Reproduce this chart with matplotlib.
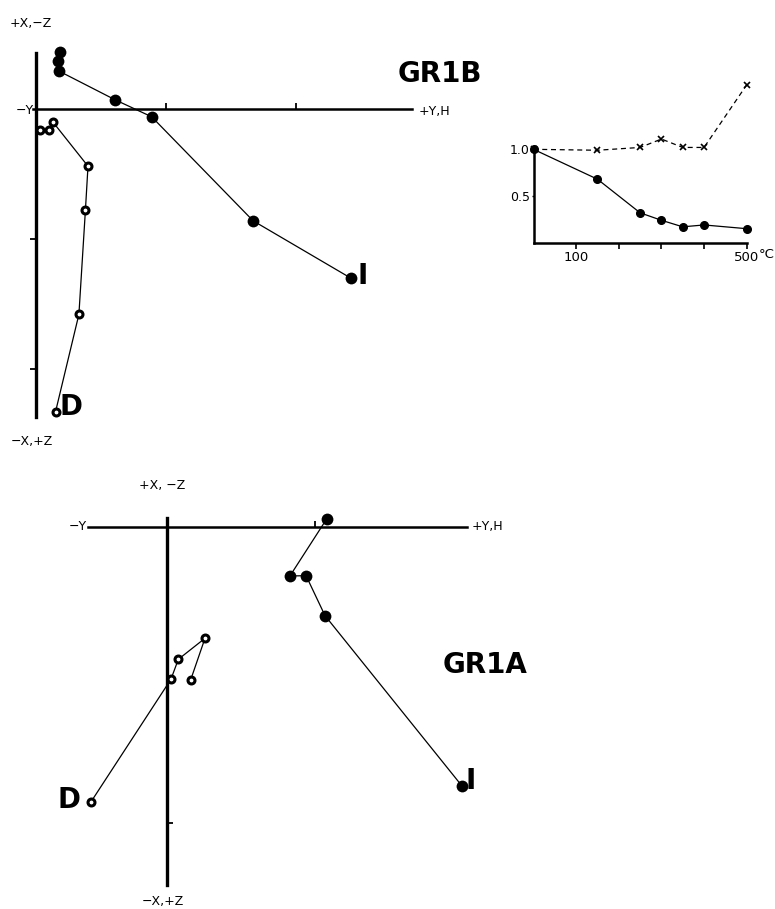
import numpy as np
import matplotlib
matplotlib.use("Agg")
import matplotlib.pyplot as plt

# --- GR1B orthogonal projection (units of tick spacing) ---
b_hor_y = [2.42, 1.67, 0.89, 0.61, 0.18, 0.17, 0.185]     # filled, "I"
b_hor_x = [-1.30, -0.86, -0.06, 0.07, 0.29, 0.37, 0.44]
b_ver_h = [0.15, 0.33, 0.38, 0.40, 0.13, 0.10, 0.03]       # open, "D"
b_ver_z = [-2.33, -1.58, -0.78, -0.44, -0.10, -0.16, -0.16]

# --- GR1A orthogonal projection ---
a_hor_y = [1.995, 1.071, 0.943, 0.834, 1.082]
a_hor_x = [-1.750, -0.601, -0.331, -0.333, 0.052]
a_ver_h = [-0.512, 0.030, 0.080, 0.260, 0.163]
a_ver_z = [-1.862, -1.031, -0.896, -0.754, -1.036]

# --- inset: normalised intensity and ratio vs temperature ---
temps = [0, 150, 250, 300, 350, 400, 500]
intensity = [1.0, 0.68, 0.32, 0.24, 0.17, 0.19, 0.15]
ratio = [1.0, 0.99, 1.02, 1.11, 1.02, 1.02, 1.69]

W, H = 775, 909
fig = plt.figure(figsize=(W / 100, H / 100), dpi=100)
fig.patch.set_facecolor("white")


def px_axes(x0, y0, x1, y1):
    return fig.add_axes([x0 / W, 1 - y1 / H, (x1 - x0) / W, (y1 - y0) / H])


def zijder(ax, unit, ox, oy, box, hbounds, vbounds, xticks, yticks, ydir):
    x0, y0, x1, y1 = box
    ax.set_xlim((x0 - ox) / unit, (x1 - ox) / unit)
    ax.set_ylim((oy - y1) / unit, (oy - y0) / unit)
    ax.patch.set_visible(False)
    for s in ["top", "right"]:
        ax.spines[s].set_visible(False)
    ax.spines["left"].set_position(("data", 0))
    ax.spines["bottom"].set_position(("data", 0))
    ax.spines["left"].set_bounds(*vbounds)
    ax.spines["bottom"].set_bounds(*hbounds)
    ax.spines["left"].set_linewidth(2.4)
    ax.spines["bottom"].set_linewidth(1.8)
    ax.set_xticks(xticks)
    ax.set_yticks(yticks)
    ax.tick_params(axis="x", direction="in", length=4, width=1.3, labelbottom=False)
    ax.tick_params(axis="y", direction=ydir, length=4, width=1.3, labelleft=False)


small = dict(fontsize=9, family="DejaVu Sans")
big = dict(fontsize=20, fontweight="bold", family="DejaVu Sans")

# ---------------- GR1B ----------------
axb = px_axes(0, 0, 500, 460)
ub, oxb, oyb = 130.0, 36.0, 109.0
zijder(axb, ub, oxb, oyb, (0, 0, 500, 460), (-0.02, 2.89), (-2.37, 0.43),
       [1, 2], [-1, -2], "out")
axb.plot(b_hor_y, b_hor_x, "-", color="k", lw=0.9, zorder=3)
axb.plot(b_hor_y, b_hor_x, "o", color="k", ms=8.5, mew=0, zorder=4)
axb.plot(b_ver_h, b_ver_z, "-", color="k", lw=0.9, zorder=3)
axb.plot(b_ver_h, b_ver_z, "o", mfc="white", mec="k", ms=5, mew=2.2, zorder=4)
axb.text(-0.04, 0.66, "+X,\u2212Z", ha="center", va="center", **small)
axb.text(-0.03, -2.56, "\u2212X,+Z", ha="center", va="center", **small)
axb.text(-0.02, -0.01, "\u2212Y", ha="right", va="center", **small)
axb.text(2.94, -0.02, "+Y,H", ha="left", va="center", **small)
axb.text(3.11, 0.27, "GR1B", ha="center", va="center", **big)
axb.text(0.18, -2.29, "D", ha="left", va="center", **big)
axb.text(2.47, -1.285, "I", ha="left", va="center", **big)

# ---------------- GR1A ----------------
axa = px_axes(0, 460, 560, 909)
ua, oxa, oya = 148.0, 166.5, 526.7
zijder(axa, ua, oxa, oya, (0, 460, 560, 909), (-0.53, 2.03), (-2.42, 0.057),
       [1], [-2], "in")
axa.plot(a_hor_y, a_hor_x, "-", color="k", lw=0.9, zorder=3)
axa.plot(a_hor_y, a_hor_x, "o", color="k", ms=8.5, mew=0, zorder=4)
axa.plot(a_ver_h, a_ver_z, "-", color="k", lw=0.9, zorder=3)
axa.plot(a_ver_h, a_ver_z, "o", mfc="white", mec="k", ms=5, mew=2.2, zorder=4)
axa.text(-0.027, 0.275, "+X, \u2212Z", ha="center", va="center", **small)
axa.text(-0.027, -2.53, "\u2212X,+Z", ha="center", va="center", **small)
axa.text(-0.54, 0.0, "\u2212Y", ha="right", va="center", **small)
axa.text(2.06, 0.0, "+Y,H", ha="left", va="center", **small)
axa.text(2.15, -0.935, "GR1A", ha="center", va="center", **big)
axa.text(-0.58, -1.85, "D", ha="right", va="center", **big)
axa.text(2.02, -1.72, "I", ha="left", va="center", **big)

# ---------------- inset ----------------
axi = px_axes(533.5, 74.6, 746.7, 242.7)
axi.set_xlim(0, 500)
axi.set_ylim(0, 1.8)
axi.patch.set_visible(False)
for s in ["top", "right"]:
    axi.spines[s].set_visible(False)
axi.spines["left"].set_bounds(0, 1.0)
axi.spines["bottom"].set_bounds(0, 500)
axi.spines["left"].set_linewidth(1.8)
axi.spines["bottom"].set_linewidth(1.8)
axi.plot(temps, ratio, "--", color="k", lw=0.9, dashes=(4, 3), marker="x",
         ms=4, mew=1.2, clip_on=False, zorder=3)
axi.plot(temps, intensity, "-", color="k", lw=0.9, marker="o", ms=5.5,
         clip_on=False, zorder=4)
axi.set_xticks([100, 200, 300, 400, 500])
axi.set_xticklabels(["100", "", "", "", "500"], fontsize=9.5, family="DejaVu Sans")
axi.set_yticks([0.5, 1.0])
axi.set_yticklabels(["0.5", "1.0"], fontsize=9, family="DejaVu Sans")
axi.tick_params(axis="x", direction="out", length=4, width=1.2, pad=2)
axi.tick_params(axis="y", direction="out", length=1.5, width=1.0, pad=1)
axi.annotate("\u00b0C", xy=(500, 0), xytext=(8.5, -4), textcoords="offset points",
             ha="left", va="top", fontsize=9.5, family="DejaVu Sans")

fig.savefig("out.png", dpi=100, facecolor="white")
